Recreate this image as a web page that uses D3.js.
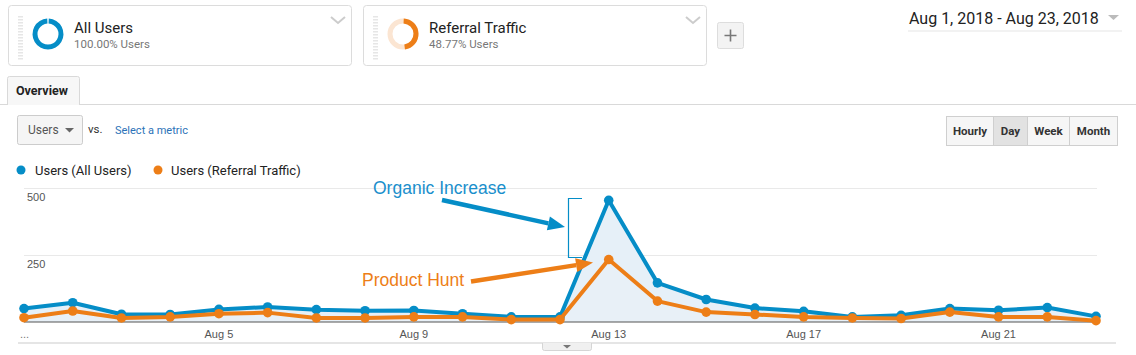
<!DOCTYPE html>
<html><head><meta charset="utf-8">
<script src="https://cdn.jsdelivr.net/npm/d3@7"></script>
<style>
html,body{margin:0;padding:0;background:#fff;}
svg{display:block;}
</style></head>
<body>
<svg id="c" width="1136" height="355"></svg>
<script>
const days = ["Aug 1","Aug 2","Aug 3","Aug 4","Aug 5","Aug 6","Aug 7","Aug 8","Aug 9","Aug 10","Aug 11","Aug 12","Aug 13","Aug 14","Aug 15","Aug 16","Aug 17","Aug 18","Aug 19","Aug 20","Aug 21","Aug 22","Aug 23"];
const allUsers = [50,72,29,28,47,56,46,42,43,31,19,19,454,146,84,52,40,19,25,50,44,54,21];
const referral = [16,41,15,19,31,35,15,15,19,19,9,9,233,78,37,28,19,15,13,37,19,19,5];
const tickLabels = ["Aug 5","Aug 9","Aug 13","Aug 17","Aug 21"];
const yTicks = [250,500];
const seriesNames = ["Users (All Users)","Users (Referral Traffic)"];
const segments = [{name:"All Users",pct:"100.00% Users",frac:1.0},{name:"Referral Traffic",pct:"48.77% Users",frac:0.4877}];
const intervals = ["Hourly","Day","Week","Month"];

const BLUE = "#058dc7", ORANGE = "#ed7e17";
const svg = d3.select("#c");
const F = "Roboto, 'Liberation Sans', Arial, sans-serif";
const FA = "'Liberation Sans', Arial, sans-serif";

// ---- segment cards
const cardX = [8,363];
segments.forEach((s,i)=>{
  const g = svg.append("g").attr("transform",`translate(${cardX[i]},5)`);
  g.append("rect").attr("x",0.5).attr("y",0.5).attr("width",343).attr("height",60).attr("rx",3)
    .attr("fill","#fff").attr("stroke","#dcdcdc");
  for(let k=0;k<15;k++) g.append("rect").attr("x",10).attr("y",11+k*3).attr("width",5).attr("height",1.5).attr("fill","#e6e6e6");
  const arc = d3.arc().innerRadius(10.5).outerRadius(15.5);
  const cg = g.append("g").attr("transform",`translate(40,29)`);
  const col = i===0?BLUE:ORANGE;
  if(s.frac<1) cg.append("path").attr("d",arc({startAngle:0,endAngle:2*Math.PI})).attr("fill", "#fbe5d2");
  cg.append("path").attr("d",arc({startAngle:0.05,endAngle:2*Math.PI*s.frac-0.05})).attr("fill",col);
  g.append("text").attr("x",66).attr("y",28).attr("font-family",F).attr("font-size",15).attr("fill","#222").text(s.name);
  g.append("text").attr("x",66).attr("y",43).attr("font-family",F).attr("font-size",11.5).attr("fill","#777").text(s.pct);
  g.append("path").attr("d","M 323 12 L 330 18 L 337 12").attr("fill","none").attr("stroke","#ccc").attr("stroke-width",2);
});
// plus button
svg.append("rect").attr("x",717.5).attr("y",22.5).attr("width",26).attr("height",26).attr("rx",2).attr("fill","#f3f3f3").attr("stroke","#ddd");
svg.append("path").attr("d","M 730.5 29.5 V 41.5 M 724.5 35.5 H 736.5").attr("stroke","#777").attr("stroke-width",1.6);

// date range
svg.append("text").attr("x",909).attr("y",24).attr("font-family",F).attr("font-size",16).attr("fill","#222").text("Aug 1, 2018 - Aug 23, 2018");
svg.append("path").attr("d","M 1108 15 L 1119 15 L 1113.5 20 Z").attr("fill","#bbb");
svg.append("line").attr("x1",908).attr("x2",1122).attr("y1",31).attr("y2",31).attr("stroke","#eee").attr("stroke-width",1.5);

// tab
svg.append("line").attr("x1",0).attr("x2",1136).attr("y1",104.5).attr("y2",104.5).attr("stroke","#d9d9d9");
svg.append("path").attr("d","M 7.5 105 V 78.5 Q 7.5 76.5 9.5 76.5 H 77.5 Q 79.5 76.5 79.5 78.5 V 105").attr("fill","#f7f7f7").attr("stroke","#d9d9d9");
svg.append("text").attr("x",16).attr("y",95).attr("font-family",F).attr("font-weight","bold").attr("font-size",12.5).attr("fill","#222").text("Overview");

// metric selector
svg.append("rect").attr("x",17.5).attr("y",115.5).attr("width",65).attr("height",29).attr("rx",2).attr("fill","#f5f5f5").attr("stroke","#ccc");
svg.append("text").attr("x",28).attr("y",134).attr("font-family",F).attr("font-size",12).attr("fill","#555").text("Users");
svg.append("path").attr("d","M 65 128 L 74 128 L 69.5 132.5 Z").attr("fill","#666");
svg.append("text").attr("x",88).attr("y",133).attr("font-family",F).attr("font-size",11.5).attr("fill","#333").text("vs.");
svg.append("text").attr("x",115).attr("y",134).attr("font-family",F).attr("font-size",11).attr("fill","#2b72b8").text("Select a metric");

// interval buttons
const bw = [47,34,42,48]; let bx = 946.5;
intervals.forEach((t,i)=>{
  svg.append("rect").attr("x",bx).attr("y",116.5).attr("width",bw[i]).attr("height",29)
    .attr("fill", i===1?"#e2e2e2":"#f6f6f6").attr("stroke","#cfcfcf");
  svg.append("text").attr("x",bx+bw[i]/2).attr("y",135).attr("text-anchor","middle").attr("font-family",F)
    .attr("font-weight","bold").attr("font-size",11.5).attr("fill","#333").text(t);
  bx += bw[i];
});

// legend
[[21,35],[158,171]].forEach((p,i)=>{
  svg.append("circle").attr("cx",p[0]).attr("cy",170).attr("r",4.5).attr("fill",i===0?BLUE:ORANGE);
  svg.append("text").attr("x",p[1]).attr("y",175).attr("font-family",F).attr("font-size",13).attr("fill","#222").text(seriesNames[i]);
});

// ---- chart
const x = d3.scalePoint().domain(days).range([24,1096]);
const y = d3.scaleLinear().domain([0,500]).range([322,188]);

const grid = svg.append("g");
yTicks.forEach(v=>{
  grid.append("line").attr("x1",24).attr("x2",1097).attr("y1",Math.round(y(v))+0.5).attr("y2",Math.round(y(v))+0.5).attr("stroke","#e9e9e9");
  grid.append("text").attr("x",27).attr("y",y(v)+13).attr("font-family",FA).attr("font-size",11).attr("fill","#555").text(v);
});

const area = d3.area().x((d,i)=>x(days[i])).y0(y(0)).y1(d=>y(d));
svg.append("path").datum(allUsers).attr("d",area).attr("fill","#e6f0f8");
svg.append("path").datum(referral).attr("d",area).attr("fill","#e9f0f5").attr("opacity",0.5);

svg.append("line").attr("x1",24).attr("x2",1097).attr("y1",322).attr("y2",322).attr("stroke","#555").attr("stroke-width",1.2);

const line = d3.line().x((d,i)=>x(days[i])).y(d=>y(d));
[[allUsers,BLUE],[referral,ORANGE]].forEach(([data,col])=>{
  svg.append("path").datum(data).attr("d",line).attr("fill","none").attr("stroke",col).attr("stroke-width",4).attr("stroke-linejoin","round");
  svg.selectAll(null).data(data).enter().append("circle").attr("cx",(d,i)=>x(days[i])).attr("cy",d=>y(d)).attr("r",4.8).attr("fill",col);
});

// x axis labels
svg.append("text").attr("x",20).attr("y",338).attr("font-family",FA).attr("font-size",11).attr("fill","#777").text("...");
tickLabels.forEach(t=>{
  svg.append("text").attr("x",x(t)).attr("y",338).attr("text-anchor","middle").attr("font-family",FA).attr("font-size",11).attr("fill","#555").text(t);
});
svg.append("line").attr("x1",18).attr("x2",1116).attr("y1",343).attr("y2",343).attr("stroke","#ddd").attr("stroke-width",1.5);
svg.append("path").attr("d","M 542.5 343 V 348.5 Q 542.5 350.5 544.5 350.5 H 589.5 Q 591.5 350.5 591.5 348.5 V 343").attr("fill","#f0f0f0").attr("stroke","#d5d5d5");
svg.append("path").attr("d","M 563 345 L 571 345 L 567 348.5 Z").attr("fill","#777");

// annotations
svg.append("text").attr("x",373).attr("y",194).attr("font-family",FA).attr("font-size",17.5).attr("fill","#1a8fcc").text("Organic Increase");
svg.append("text").attr("x",362).attr("y",286).attr("font-family",FA).attr("font-size",17.5).attr("fill",ORANGE).text("Product Hunt");

function arrow(x1,y1,x2,y2,col){
  const a = Math.atan2(y2-y1,x2-x1), L=17, W=7;
  const bxp = x2 - L*Math.cos(a), byp = y2 - L*Math.sin(a);
  svg.append("line").attr("x1",x1).attr("y1",y1).attr("x2",bxp).attr("y2",byp).attr("stroke",col).attr("stroke-width",4.5);
  const px = -Math.sin(a), py = Math.cos(a);
  svg.append("path").attr("d",`M ${x2} ${y2} L ${bxp+px*W} ${byp+py*W} L ${bxp-px*W} ${byp-py*W} Z`).attr("fill",col);
}
arrow(442,200,565,227,BLUE);
arrow(471,281.5,593,262.5,ORANGE);
svg.append("path").attr("d","M 582 198.5 H 568.5 V 257.5 H 582").attr("fill","none").attr("stroke",BLUE).attr("stroke-width",1.2);
</script>
</body></html>
